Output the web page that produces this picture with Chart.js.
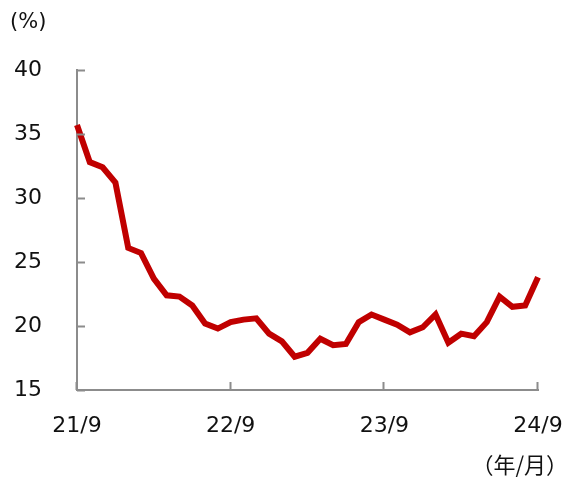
<!DOCTYPE html>
<html>
<head>
<meta charset="utf-8">
<script src="https://cdn.jsdelivr.net/npm/chart.js@4"></script>
<style>
  html, body { margin: 0; padding: 0; background: #fff; }
  #wrap { width: 562px; height: 478px; }
</style>
</head>
<body>
<div id="wrap"><canvas id="lineChart"></canvas></div>
<script>
// 月次ラベル (21/9 〜 24/9)
var months = [];
for (var k = 0; k <= 36; k++) {
    var m = ((9 + k - 1) % 12) + 1;
    var yy = 21 + Math.floor((9 + k - 1) / 12);
    months.push(yy + '/' + m);
}
var tickLabels = ['21/9', '22/9', '23/9', '24/9'];
var values = [35.7, 32.8, 32.4, 31.2, 26.1, 25.7, 23.7, 22.4, 22.3, 21.6,
              20.2, 19.8, 20.3, 20.5, 20.6, 19.4, 18.8, 17.6, 17.9, 19.0,
              18.5, 18.6, 20.3, 20.9, 20.5, 20.1, 19.5, 19.9, 20.9, 18.7,
              19.4, 19.2, 20.3, 22.3, 21.5, 21.6, 23.8];
var yTicks = [15, 20, 25, 30, 35, 40];

var FONT = 'Verdana, DejaVu Sans, sans-serif';
var AXIS = '#8c8c8c';
var TEXT = '#111';

// 内向きの目盛り線と単位ラベル
var extras = {
    id: 'extras',
    afterDraw: function(chart) {
        var c = chart.ctx, a = chart.chartArea;
        var x = chart.scales.x, y = chart.scales.y;
        c.save();
        c.strokeStyle = AXIS;
        c.lineWidth = 2;
        c.beginPath();
        yTicks.forEach(function(v) {
            var py = Math.round(y.getPixelForValue(v)) + 0.5;
            c.moveTo(a.left, py); c.lineTo(a.left + 8, py);
        });
        tickLabels.forEach(function(l) {
            var px = Math.round(x.getPixelForValue(months.indexOf(l))) - 0.5;
            c.moveTo(px, a.bottom); c.lineTo(px, a.bottom - 8);
        });
        c.stroke();
        c.fillStyle = TEXT;
        c.font = '21px ' + FONT;
        c.textAlign = 'left';
        c.textBaseline = 'middle';
        c.fillText('(%)', 10, 23);
        c.font = '22px "Noto Sans CJK JP", ' + FONT;
        c.textAlign = 'right';
        c.fillText('（年/月）', 568, 465);
        c.restore();
    }
};

new Chart(document.getElementById('lineChart'), {
    type: 'line',
    data: {
        labels: months,
        datasets: [{
            data: values,
            borderColor: '#c00000',
            borderWidth: 6,
            pointRadius: 0,
            tension: 0,
            fill: false
        }]
    },
    options: {
        responsive: true,
        maintainAspectRatio: false,
        animation: false,
        layout: { padding: { top: 70, right: 0, left: 0, bottom: 0 } },
        plugins: { legend: { display: false }, tooltip: { enabled: false } },
        scales: {
            x: {
                offset: false,
                afterFit: function(s) {
                    s.height = 88;
                    s.paddingLeft = 0;
                    s.paddingRight = 24;
                },
                grid: { display: false, drawTicks: false },
                border: { color: AXIS, width: 2 },
                ticks: {
                    autoSkip: false,
                    maxRotation: 0,
                    padding: 23,
                    color: TEXT,
                    font: { family: FONT, size: 22 },
                    callback: function(v) {
                        var l = months[v];
                        return tickLabels.indexOf(l) >= 0 ? l : '';
                    }
                }
            },
            y: {
                min: 15,
                max: 40,
                afterFit: function(s) { s.width = 77; },
                grid: { display: false, drawTicks: false },
                border: { color: AXIS, width: 2 },
                ticks: {
                    stepSize: 5,
                    padding: 35,
                    color: TEXT,
                    font: { family: FONT, size: 22 }
                }
            }
        }
    },
    plugins: [extras]
});
</script>
</body>
</html>
